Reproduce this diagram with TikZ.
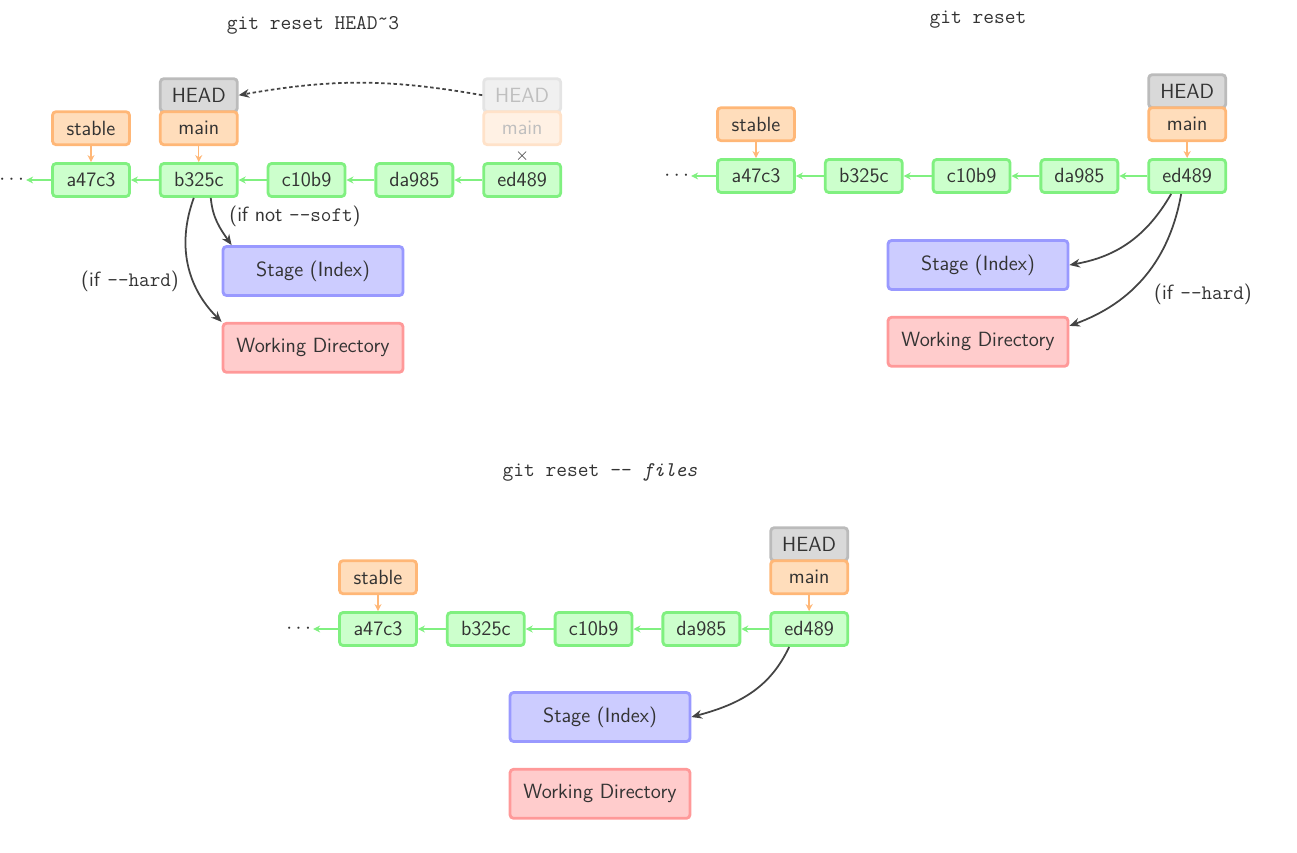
\documentclass[tikz,border=0pt]{standalone}
\usepackage{fontspec}
\usetikzlibrary{positioning, arrows.meta, backgrounds}
\definecolor{textgray}{HTML}{333333}
\definecolor{arrowgray}{HTML}{444444}
\definecolor{commitfill}{HTML}{CCFFCC}
\definecolor{commitline}{HTML}{80F080}
\definecolor{branchfill}{HTML}{FFDDBB}
\definecolor{branchline}{HTML}{FFB777}
\definecolor{headfill}{HTML}{D9D9D9}
\definecolor{headline}{HTML}{BBBBBB}
\definecolor{stagefill}{HTML}{CCCCFF}
\definecolor{stageline}{HTML}{9999FF}
\definecolor{workfill}{HTML}{FFCCCC}
\definecolor{workline}{HTML}{FF9999}
\tikzset{
    commit/.style={
        draw=commitline, fill=commitfill,
        line width=1.6pt, rounded corners=2pt,
        minimum width=1.54cm, minimum height=0.66cm,
        text=textgray,
        font=\sffamily\fontsize{11.7}{14}\selectfont
    },
    branch/.style={commit, draw=branchline, fill=branchfill},
    headref/.style={commit, draw=headline, fill=headfill},
    oldhead/.style={commit, draw=headline!40, fill=headfill!40, text=black!25},
    oldbranch/.style={commit, draw=branchline!40, fill=branchfill!40, text=black!25},
    area/.style={commit, minimum width=3.6cm, minimum height=0.98cm},
    stagebox/.style={area, draw=stageline, fill=stagefill},
    workbox/.style={area, draw=workline, fill=workfill},
    dots/.style={inner sep=1pt, text=textgray, font=\fontsize{11.7}{14}\selectfont},
    parent/.style={-{Stealth[length=4pt,width=4pt]}, draw=commitline, line width=1pt},
    pointer/.style={-{Stealth[length=4pt,width=4pt]}, draw=branchline, line width=0.8pt},
    line/.style={-{Stealth[length=6pt,width=5pt]}, draw=arrowgray, line width=1pt},
    title/.style={text=textgray, font=\ttfamily\fontsize{11.9}{14}\selectfont},
    note/.style={text=textgray, font=\sffamily\fontsize{11.7}{14}\selectfont}
}

\begin{document}
\begin{tikzpicture}[x=0.02cm, y=-0.02cm]
    \useasboundingbox (0,0) rectangle (1297,852);

    % git reset HEAD~3
    \node[title] (title1) at (313,25) {git reset HEAD\raisebox{0.45ex}{\textasciitilde}3};

    % Commits
    \node[commit] (a1) at (91,180) {a47c3};
    \node[commit, right = 0.56cm of a1] (b1) {b325c};
    \node[commit, right = 0.56cm of b1] (c1) {c10b9};
    \node[commit, right = 0.56cm of c1] (d1) {da985};
    \node[commit, right = 0.56cm of d1] (e1) {ed489};
    \node[dots, left = 0.5cm of a1] (dots1) {$\cdots$};

    % Branches
    \node[branch, above = 0.32cm of a1] (stable1) {stable};
    \node[branch, above = 0.32cm of b1] (main1) {main};
    \node[oldbranch, above = 0.32cm of e1] (oldmain1) {main};
    \begin{scope}[on background layer]
        \node[headref, above = -1.6pt of main1] (head1) {HEAD};
        \node[oldhead, above = -1.6pt of oldmain1] (oldhead1) {HEAD};
    \end{scope}
    \node[inner sep=0pt, text=textgray, below = 0.08cm of oldmain1] (cross1) {$\times$};

    % Areas
    \node[stagebox] (stage1) at (313,271) {Stage (Index)};
    \node[workbox, below = 0.5cm of stage1] (wd1) {Working Directory};

    % Lines
    \draw[parent] (e1) -- (d1);
    \draw[parent] (d1) -- (c1);
    \draw[parent] (c1) -- (b1);
    \draw[parent] (b1) -- (a1);
    \draw[parent] (a1) -- (dots1);
    \draw[pointer] (stable1) -- (a1);
    \draw[pointer] (main1) -- (b1);
    \draw[line, dash pattern=on 2pt off 1.5pt] (oldhead1.west) to[bend right=10] (head1.east);
    \draw[line] ([xshift=0.24cm]b1.south) to[out=-85, in=125] ([xshift=0.2cm]stage1.north west);
    \draw[line] ([xshift=-0.1cm]b1.south) to[out=-110, in=135] (wd1.north west);
    \node[note] (soft1) at (295,216) {(if not \texttt{--soft})};
    \node[note] (hard1) at (130,281) {(if \texttt{--hard})};

    % git reset
    \node[title] (title2) at (978,20) {git reset};

    % Commits
    \node[commit] (a2) at (756,176) {a47c3};
    \node[commit, right = 0.56cm of a2] (b2) {b325c};
    \node[commit, right = 0.56cm of b2] (c2) {c10b9};
    \node[commit, right = 0.56cm of c2] (d2) {da985};
    \node[commit, right = 0.56cm of d2] (e2) {ed489};
    \node[dots, left = 0.5cm of a2] (dots2) {$\cdots$};

    % Branches
    \node[branch, above = 0.32cm of a2] (stable2) {stable};
    \node[branch, above = 0.32cm of e2] (main2) {main};
    \begin{scope}[on background layer]
        \node[headref, above = -1.6pt of main2] (head2) {HEAD};
    \end{scope}

    % Areas
    \node[stagebox] (stage2) at (978,265) {Stage (Index)};
    \node[workbox, below = 0.5cm of stage2] (wd2) {Working Directory};

    % Lines
    \draw[parent] (e2) -- (d2);
    \draw[parent] (d2) -- (c2);
    \draw[parent] (c2) -- (b2);
    \draw[parent] (b2) -- (a2);
    \draw[parent] (a2) -- (dots2);
    \draw[pointer] (stable2) -- (a2);
    \draw[pointer] (main2) -- (e2);
    \draw[line] ([xshift=-0.32cm]e2.south) to[out=-120, in=10] (stage2.east);
    \draw[line] ([xshift=-0.12cm]e2.south) to[out=-100, in=20] ([yshift=-0.2cm]wd2.north east);
    \node[note] (hard2) at (1203,294) {(if \texttt{--hard})};

    % git reset -- files
    \node[title] (title3) at (600,472) {git reset -{}- \textit{files}};

    % Commits
    \node[commit] (a3) at (378,629) {a47c3};
    \node[commit, right = 0.56cm of a3] (b3) {b325c};
    \node[commit, right = 0.56cm of b3] (c3) {c10b9};
    \node[commit, right = 0.56cm of c3] (d3) {da985};
    \node[commit, right = 0.56cm of d3] (e3) {ed489};
    \node[dots, left = 0.5cm of a3] (dots3) {$\cdots$};

    % Branches
    \node[branch, above = 0.32cm of a3] (stable3) {stable};
    \node[branch, above = 0.32cm of e3] (main3) {main};
    \begin{scope}[on background layer]
        \node[headref, above = -1.6pt of main3] (head3) {HEAD};
    \end{scope}

    % Areas
    \node[stagebox] (stage3) at (600,717) {Stage (Index)};
    \node[workbox, below = 0.5cm of stage3] (wd3) {Working Directory};

    % Lines
    \draw[parent] (e3) -- (d3);
    \draw[parent] (d3) -- (c3);
    \draw[parent] (c3) -- (b3);
    \draw[parent] (b3) -- (a3);
    \draw[parent] (a3) -- (dots3);
    \draw[pointer] (stable3) -- (a3);
    \draw[pointer] (main3) -- (e3);
    \draw[line] ([xshift=-0.4cm]e3.south) to[out=-115, in=15] (stage3.east);

\end{tikzpicture}
\end{document}
